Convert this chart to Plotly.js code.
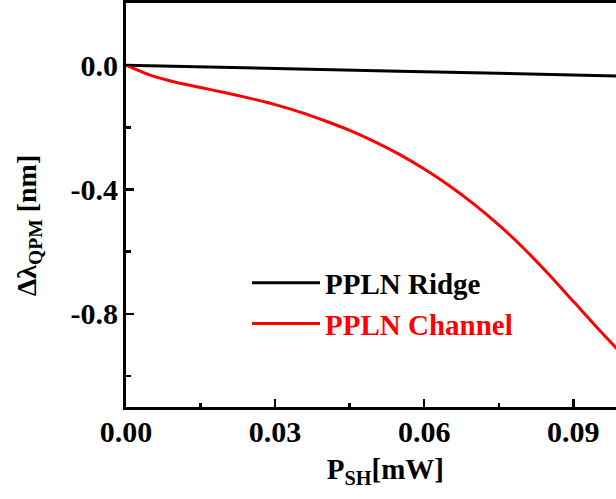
<!DOCTYPE html>
<html>
<head>
<meta charset="utf-8">
<script src="https://cdn.plot.ly/plotly-3.0.1.min.js"></script>
<style>
html,body{margin:0;padding:0;overflow:hidden;background:#fff;}
#chart{width:640px;height:499px;}
</style>
</head>
<body>
<div id="chart"></div>
<script>
// Data
var powerSH = [0, 0.005, 0.01, 0.015, 0.02, 0.025, 0.03, 0.035, 0.04, 0.045, 0.05,
               0.055, 0.06, 0.065, 0.07, 0.075, 0.08, 0.085, 0.09, 0.095, 0.1];
var ridgeShift = [0, -0.002, -0.004, -0.006, -0.008, -0.010, -0.011, -0.013, -0.015, -0.017, -0.018,
                  -0.020, -0.021, -0.023, -0.025, -0.027, -0.028, -0.030, -0.031, -0.033, -0.035];
var channelShift = [0, -0.033, -0.055, -0.072, -0.089, -0.107, -0.127, -0.151, -0.179, -0.210, -0.246,
                    -0.287, -0.334, -0.387, -0.447, -0.514, -0.589, -0.672, -0.760, -0.848, -0.933];
var seriesNames = ['PPLN Ridge', 'PPLN Channel'];
var xTickVals = [0, 0.03, 0.06, 0.09];
var xTickText = ['0.00', '0.03', '0.06', '0.09'];
var yTickVals = [0, -0.4, -0.8];
var yTickText = ['0.0', '-0.4', '-0.8'];
var xTitle = 'P<sub>SH</sub>[mW]';
var yTitle = 'Δλ<sub>QPM</sub> [nm]';

var FONT = 'Liberation Serif, Times New Roman, serif';

var traces = [
  {x: powerSH, y: ridgeShift, mode: 'lines', name: seriesNames[0],
   line: {color: '#000000', width: 3}},
  {x: powerSH, y: channelShift, mode: 'lines', name: '<span style="color:#ff0000">' + seriesNames[1] + '</span>',
   line: {color: '#ff0000', width: 3, shape: 'spline', smoothing: 0.8}}
];

var axisCommon = {
  showgrid: false, zeroline: false,
  showline: true, linecolor: '#000', linewidth: 3, mirror: true,
  ticks: 'inside', ticklen: 8, tickwidth: 2.5, tickcolor: '#000',
  tickfont: {family: FONT, size: 30, color: '#000', weight: 'bold'},
  tickmode: 'array'
};

var layout = {
  width: 640, height: 499,
  margin: {l: 126, r: 17, t: 3, b: 92},
  paper_bgcolor: '#fff', plot_bgcolor: '#fff',
  font: {family: FONT, color: '#000'},
  showlegend: true,
  legend: {
    x: 0.2435, y: 0.37, xanchor: 'left', yanchor: 'top',
    bgcolor: 'rgba(0,0,0,0)', borderwidth: 0,
    itemwidth: 68,
    font: {family: FONT, size: 29, color: '#000', weight: 'bold'},
    tracegroupgap: 0
  },
  xaxis: Object.assign({}, axisCommon, {
    range: [0, 0.1],
    tickvals: xTickVals, ticktext: xTickText,
    ticklabelstandoff: -4,
    minor: {tickmode: 'linear', tick0: 0, dtick: 0.015, ticks: 'inside', ticklen: 4, tickwidth: 2.5, tickcolor: '#000'},
    title: {text: '&nbsp;&nbsp;&nbsp;' + xTitle, font: {family: FONT, size: 29, color: '#000', weight: 'bold'}, standoff: 12}
  }),
  yaxis: Object.assign({}, axisCommon, {
    range: [-1.1, 0.2],
    tickvals: yTickVals, ticktext: yTickText,
    ticklabelstandoff: -1,
    minor: {tickmode: 'linear', tick0: 0, dtick: 0.2, ticks: 'inside', ticklen: 5, tickwidth: 2.5, tickcolor: '#000'}
  }),
  annotations: [{
    text: yTitle, textangle: -90, showarrow: false,
    xref: 'paper', yref: 'paper', x: -0.197, y: 0.45, xanchor: 'center', yanchor: 'middle',
    font: {family: FONT, size: 28, color: '#000', weight: 'bold'}
  }]
};

Plotly.newPlot('chart', traces, layout, {displayModeBar: false, staticPlot: true});
</script>
</body>
</html>
